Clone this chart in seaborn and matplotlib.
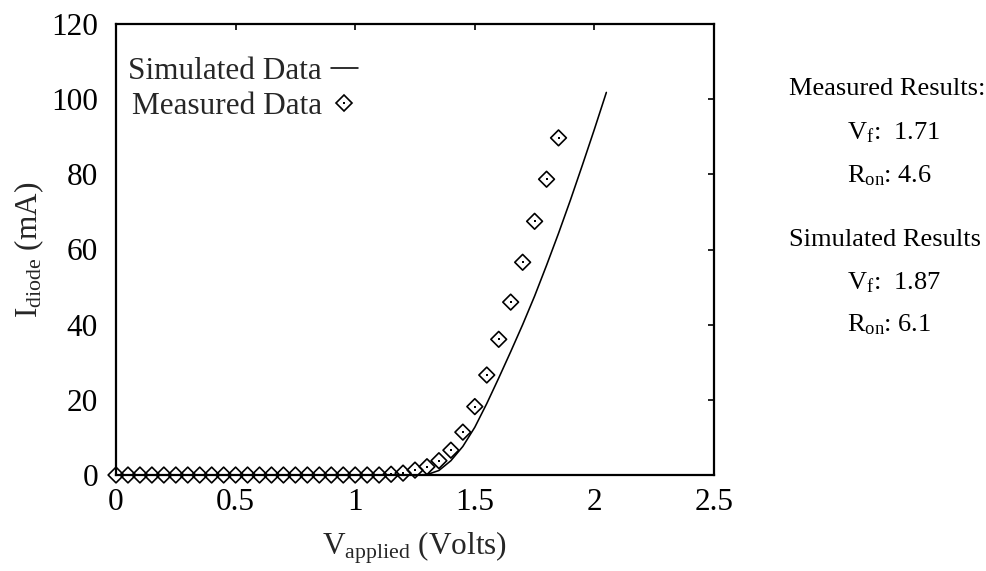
import matplotlib
matplotlib.use("Agg")
import matplotlib.pyplot as plt
from matplotlib.lines import Line2D
from matplotlib.legend_handler import HandlerTuple
import seaborn as sns
import pandas as pd

# ---- data ----
v_sim = [0.0, 0.05, 0.10, 0.15, 0.20, 0.25, 0.30, 0.35, 0.40, 0.45, 0.50, 0.55, 0.60,
         0.65, 0.70, 0.75, 0.80, 0.85, 0.90, 0.95, 1.00, 1.05, 1.10, 1.15, 1.20, 1.25,
         1.30, 1.35, 1.40, 1.45, 1.50, 1.55, 1.60, 1.65, 1.70, 1.75, 1.80, 1.85, 1.90,
         1.95, 2.00, 2.05]
i_sim = [0, 0, 0, 0, 0, 0, 0, 0, 0, 0, 0, 0, 0,
         0, 0, 0, 0, 0, 0, 0, 0, 0, 0, 0, 0, 0,
         0.1, 1.2, 3.8, 7.6, 12.7, 19.0, 25.8, 32.8, 40.0, 47.6, 55.8, 64.3, 73.2,
         82.5, 92.0, 101.8]

v_meas = [0.0, 0.05, 0.10, 0.15, 0.20, 0.25, 0.30, 0.35, 0.40, 0.45, 0.50, 0.55, 0.60,
          0.65, 0.70, 0.75, 0.80, 0.85, 0.90, 0.95, 1.00, 1.05, 1.10, 1.15, 1.20, 1.25,
          1.30, 1.35, 1.40, 1.45, 1.50, 1.55, 1.60, 1.65, 1.70, 1.75, 1.80, 1.85]
i_meas = [0, 0, 0, 0, 0, 0, 0, 0, 0, 0, 0, 0, 0,
          0, 0, 0, 0, 0, 0, 0, 0, 0, 0, 0.2, 0.5, 1.3,
          2.2, 3.8, 6.6, 11.4, 18.2, 26.6, 36.1, 46.0, 56.6, 67.5, 78.7, 89.7]

x_ticks = [0, 0.5, 1, 1.5, 2, 2.5]
x_tick_labels = ["0", "0.5", "1", "1.5", "2", "2.5"]
y_ticks = [0, 20, 40, 60, 80, 100, 120]
y_tick_labels = ["0", "20", "40", "60", "80", "100", "120"]

series_labels = ["Simulated Data", "Measured Data"]
result_lines = [
    ("Measured Results:", None),
    (r"$\mathrm{V_f}$:  1.71", "item"),
    (r"$\mathrm{R_{on}}$: 4.6", "item"),
    ("Simulated Results", None),
    (r"$\mathrm{V_f}$:  1.87", "item"),
    (r"$\mathrm{R_{on}}$: 6.1", "item"),
]

# ---- style ----
sns.set_theme(style="white")
plt.rcParams["font.family"] = ["Liberation Serif", "DejaVu Serif"]
plt.rcParams["mathtext.fontset"] = "custom"
plt.rcParams["mathtext.rm"] = "Liberation Serif"
plt.rcParams["mathtext.it"] = "Liberation Serif:italic"
plt.rcParams["mathtext.bf"] = "Liberation Serif:bold"

FS = 22.5
fig = plt.figure(figsize=(9.87, 5.71), dpi=100)
ax = fig.add_axes([116 / 987, 1 - 475 / 571, (714 - 116) / 987, (475 - 24) / 571])

sim_df = pd.DataFrame({"V": v_sim, "I": i_sim})
meas_df = pd.DataFrame({"V": v_meas, "I": i_meas})

sns.lineplot(data=sim_df, x="V", y="I", ax=ax, color="black", linewidth=1.15,
             sort=False, estimator=None, clip_on=False, zorder=3)
sns.scatterplot(data=meas_df, x="V", y="I", ax=ax, marker="D", s=64,
                facecolor="none", edgecolor="black", linewidth=1.2,
                clip_on=False, zorder=4)
sns.scatterplot(data=meas_df, x="V", y="I", ax=ax, marker="s", s=2.2,
                color="black", linewidth=0, clip_on=False, zorder=4)

ax.set_xlim(0, 2.5)
ax.set_ylim(0, 120)
ax.set_xticks(x_ticks)
ax.set_xticklabels(x_tick_labels)
ax.set_yticks(y_ticks)
ax.set_yticklabels(y_tick_labels)
ax.tick_params(axis="both", which="major", direction="in", length=4.5, width=1.2,
               labelsize=FS, colors="black", top=True, right=True)
ax.tick_params(axis="x", pad=9)
ax.tick_params(axis="y", pad=13)
for sp in ax.spines.values():
    sp.set_color("black")
    sp.set_linewidth(1.6)

ax.set_xlabel(r"$\mathrm{V_{applied}}$ (Volts)", fontsize=FS, labelpad=9)
ax.set_ylabel(r"$\mathrm{I_{diode}}$ (mA)", fontsize=FS, labelpad=4)

h_line = Line2D([], [], color="black", linewidth=1.15)
h_diam = Line2D([], [], linestyle="none", marker="D", markersize=8,
                markerfacecolor="none", markeredgecolor="black", markeredgewidth=1.2)
h_dot = Line2D([], [], linestyle="none", marker="s", markersize=1.5,
               markerfacecolor="black", markeredgewidth=0)
leg = ax.legend([h_line, (h_diam, h_dot)], series_labels,
                handler_map={tuple: HandlerTuple(ndivide=1)},
                loc="upper left", bbox_to_anchor=(0.02, 0.927),
                frameon=False, markerfirst=False, fontsize=FS,
                handlelength=0.85, handletextpad=0.3, labelspacing=0.19,
                borderpad=0, borderaxespad=0)

# right-hand result block
ys = [95, 139, 182, 246, 289, 331]
for (txt, kind), yp in zip(result_lines, ys):
    xp = 789 if kind is None else 847
    fig.text(xp / 987, 1 - yp / 571, txt, fontsize=19, ha="left", va="baseline",
             color="black")

fig.savefig("out.png", dpi=100)
